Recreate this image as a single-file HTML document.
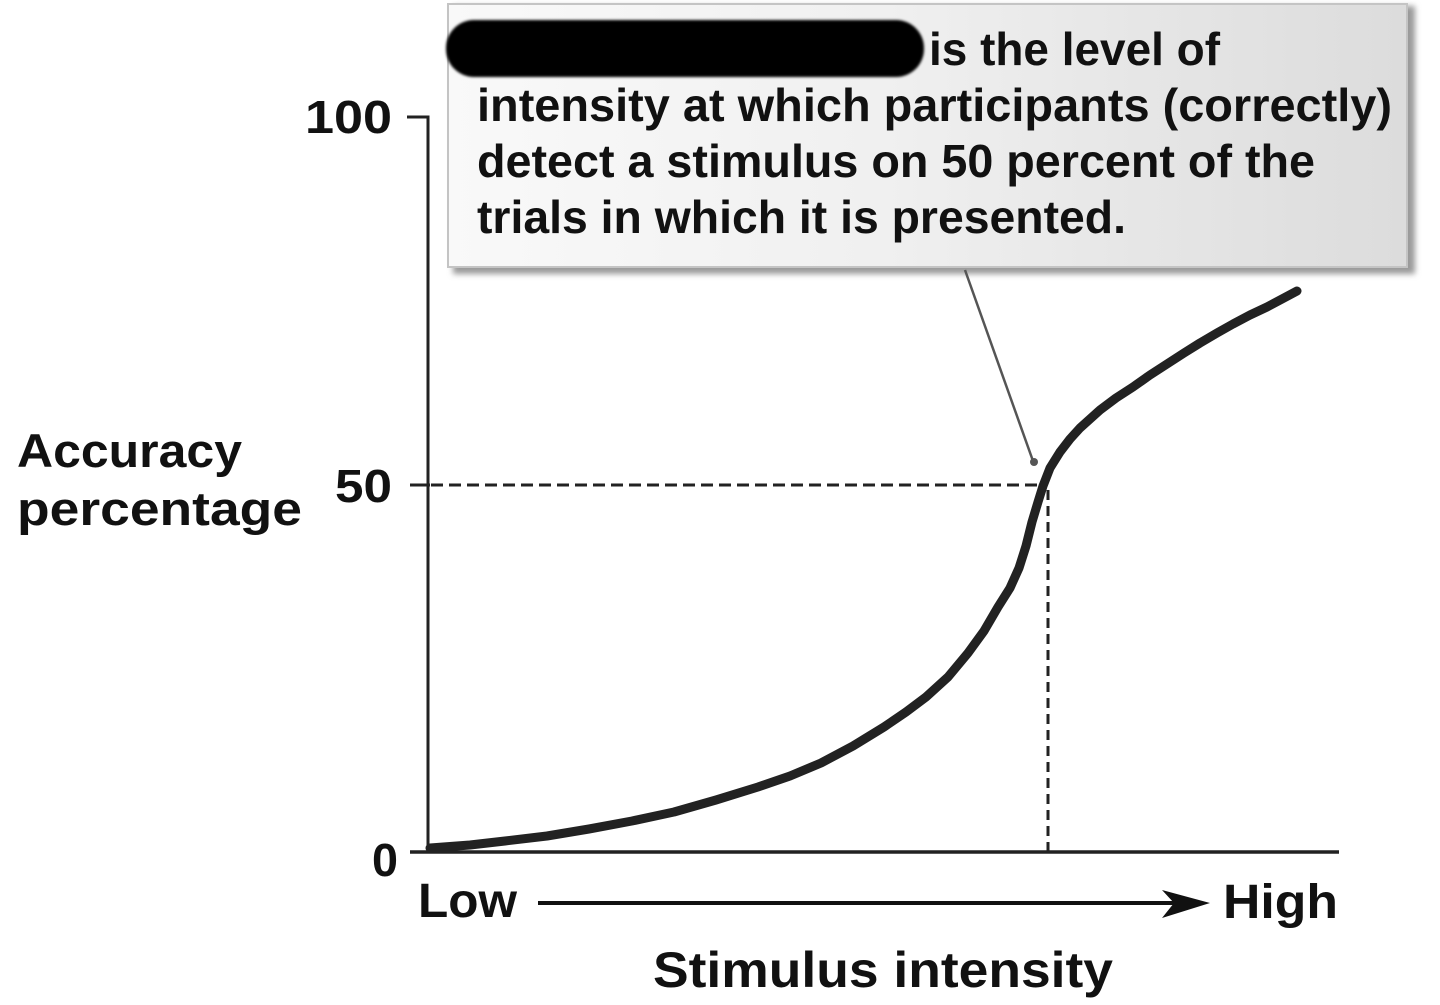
<!DOCTYPE html>
<html>
<head>
<meta charset="utf-8">
<style>
  html, body { margin: 0; padding: 0; background: #ffffff; }
  body { width: 1440px; height: 1005px; overflow: hidden; }
  svg { display: block; }
  text { font-family: "Liberation Sans", "DejaVu Sans", sans-serif; font-weight: bold; fill: #111; }
</style>
</head>
<body>
<svg width="1440" height="1005" viewBox="0 0 1440 1005" xmlns="http://www.w3.org/2000/svg">
  <defs>
    <linearGradient id="boxg" x1="0" y1="0" x2="1" y2="0">
      <stop offset="0" stop-color="#f9f9f9"/>
      <stop offset="0.45" stop-color="#f0f0f0"/>
      <stop offset="1" stop-color="#dcdcdc"/>
    </linearGradient>
    <filter id="sh" x="-5%" y="-5%" width="115%" height="125%">
      <feGaussianBlur stdDeviation="3"/>
    </filter>
    <filter id="soft" x="-5%" y="-20%" width="110%" height="140%">
      <feGaussianBlur stdDeviation="1.2"/>
    </filter>
  </defs>

  <!-- callout box shadow -->
  <rect x="453" y="6" width="962" height="268" fill="#9a9a9a" filter="url(#sh)"/>
  <!-- callout box -->
  <rect x="448" y="4" width="959" height="263" fill="url(#boxg)" stroke="#c4c4c4" stroke-width="2"/>

  <!-- redaction blob -->
  <rect x="446" y="20" width="478" height="57" rx="28" ry="28" fill="#000" filter="url(#soft)"/>

  <!-- box text -->
  <text x="929" y="65" font-size="46" textLength="291" lengthAdjust="spacingAndGlyphs">is the level of</text>
  <text x="477" y="121" font-size="46" textLength="915" lengthAdjust="spacingAndGlyphs">intensity at which participants (correctly)</text>
  <text x="477" y="177" font-size="46" textLength="838" lengthAdjust="spacingAndGlyphs">detect a stimulus on 50 percent of the</text>
  <text x="477" y="233" font-size="46" textLength="649" lengthAdjust="spacingAndGlyphs">trials in which it is presented.</text>

  <!-- y axis -->
  <line x1="428" y1="116" x2="428" y2="853" stroke="#222" stroke-width="3"/>
  <line x1="407" y1="117" x2="429.5" y2="117" stroke="#222" stroke-width="3"/>
  <line x1="410" y1="485" x2="430" y2="485" stroke="#222" stroke-width="3"/>
  <!-- x axis -->
  <line x1="410" y1="852" x2="1339" y2="852" stroke="#222" stroke-width="3.5"/>

  <!-- y tick labels -->
  <text x="305" y="133" font-size="46" textLength="87" lengthAdjust="spacingAndGlyphs">100</text>
  <text x="335" y="502" font-size="46" textLength="57" lengthAdjust="spacingAndGlyphs">50</text>
  <text x="372" y="876" font-size="46" textLength="26" lengthAdjust="spacingAndGlyphs">0</text>

  <!-- y axis title -->
  <text x="17" y="467" font-size="47" textLength="225" lengthAdjust="spacingAndGlyphs">Accuracy</text>
  <text x="17" y="525" font-size="47" textLength="285" lengthAdjust="spacingAndGlyphs">percentage</text>

  <!-- dashed guides -->
  <line x1="431" y1="485" x2="1046" y2="485" stroke="#222" stroke-width="3" stroke-dasharray="12 6"/>
  <line x1="1048" y1="490" x2="1048" y2="851" stroke="#222" stroke-width="3" stroke-dasharray="10 6"/>

  <!-- callout pointer -->
  <line x1="965" y1="270" x2="1033" y2="461" stroke="#555" stroke-width="2.5"/>
  <circle cx="1034" cy="462" r="4" fill="#555"/>

  <!-- curve -->
  <polyline fill="none" stroke="#222" stroke-width="9" stroke-linejoin="round" stroke-linecap="round"
    points="430,848 470,845 505,841 547,836 589,829 632,821 674,812 716,800 758,787 790,776 821,763 853,746 884,727 906,712 926,697 948,677 968,653 984,631 998,607 1010,588 1019,568 1026,546 1032,522 1038,502 1043,486 1050,468 1060,452 1070,439 1080,428 1090,419 1100,410 1116,398 1133,387 1150,375 1167,364 1184,353 1200,343 1217,333 1233,324 1250,315 1267,307 1282,299 1297,291"/>

  <!-- x axis labels -->
  <text x="418" y="917" font-size="48" textLength="99" lengthAdjust="spacingAndGlyphs">Low</text>
  <text x="1223" y="918" font-size="48" textLength="115" lengthAdjust="spacingAndGlyphs">High</text>
  <!-- arrow -->
  <line x1="538" y1="903" x2="1180" y2="903" stroke="#111" stroke-width="4"/>
  <polygon points="1162,890 1210,903 1162,918 1174,903" fill="#111"/>

  <text x="653" y="987" font-size="50" textLength="460" lengthAdjust="spacingAndGlyphs">Stimulus intensity</text>
</svg>
</body>
</html>
